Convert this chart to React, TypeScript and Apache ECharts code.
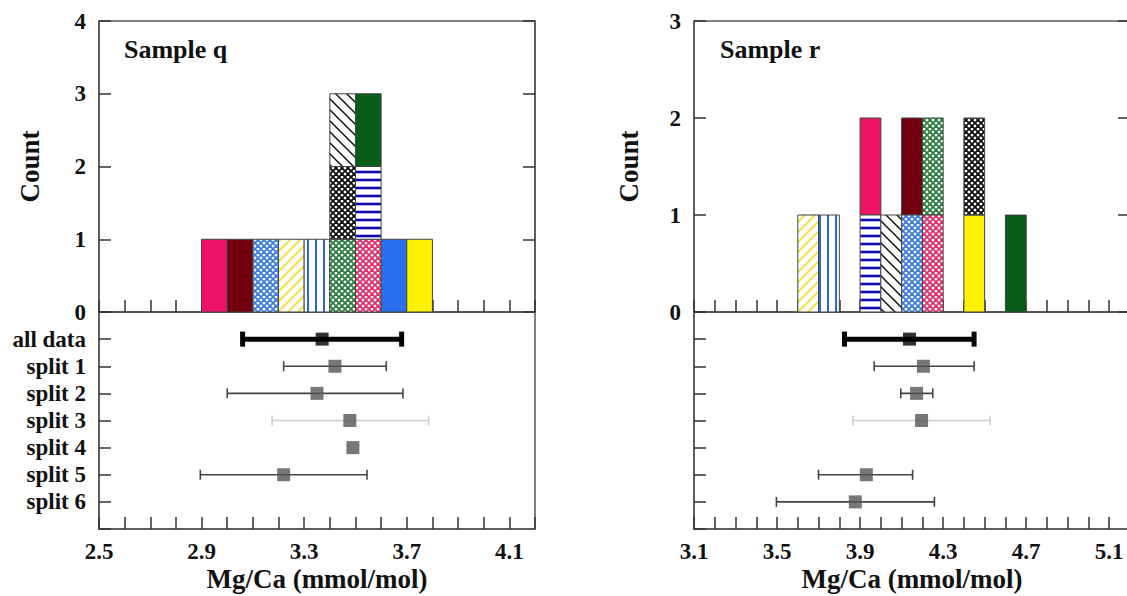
import React, { useEffect, useRef } from 'react';
import * as echarts from 'echarts';

// ---- specimens (each has its own fill) ----
const specimens = [
  'pinkSolid', 'darkRed', 'blueCross', 'yellowDiag', 'blueVert', 'greenCross', 'pinkCross',
  'blueSolid', 'yellowSolid', 'blackCross', 'navyHoriz', 'blackDiag', 'darkGreen',
];

// ---- histogram: bin lower edge (bin width 0.1) and stack level of each specimen ----
const binWidth = 0.1;
const qBin = [2.9, 3.0, 3.1, 3.2, 3.3, 3.4, 3.5, 3.6, 3.7, 3.4, 3.5, 3.4, 3.5];
const qLevel = [0, 0, 0, 0, 0, 0, 0, 0, 0, 1, 1, 2, 2];
const rBin = [3.9, 4.1, 4.1, 3.6, 3.7, 4.2, 4.2, null, 4.4, 4.4, 3.9, 4.0, 4.6];
const rLevel = [1, 1, 0, 0, 0, 1, 0, null, 0, 1, 0, 0, 0];

// ---- mean and range per row ----
const rowLabels = ['all data', 'split 1', 'split 2', 'split 3', 'split 4', 'split 5', 'split 6'];
const qMean = [3.37, 3.42, 3.35, 3.478, 3.49, 3.22, null];
const qLow = [3.06, 3.22, 3.0, 3.175, null, 2.895, null];
const qHigh = [3.68, 3.62, 3.685, 3.785, null, 3.545, null];
const rMean = [4.138, 4.205, 4.172, 4.196, null, 3.93, 3.877];
const rLow = [3.825, 3.968, 4.096, 3.866, null, 3.7, 3.497];
const rHigh = [4.449, 4.449, 4.25, 4.527, null, 4.153, 4.258];

// ---- axis ranges ----
const qRange = [2.5, 4.2];
const rRange = [3.1, 5.2];
const qCountMax = 4;
const rCountMax = 3;

const FONT = "'Liberation Serif', 'DejaVu Serif', serif";

function makePattern(kind: string, color: string) {
  const sizes: Record<string, number> = { cross: 6, diagUp: 10, diagDown: 11, vert: 8, horiz: 8 };
  const s = sizes[kind];
  const c = document.createElement('canvas');
  c.width = s;
  c.height = s;
  const g = c.getContext('2d')!;
  g.fillStyle = '#ffffff';
  g.fillRect(0, 0, s, s);
  g.strokeStyle = color;
  const line = (x1: number, y1: number, x2: number, y2: number) => {
    g.beginPath();
    g.moveTo(x1, y1);
    g.lineTo(x2, y2);
    g.stroke();
  };
  if (kind === 'cross') {
    g.lineWidth = 1.8;
    for (const o of [-s, 0, s]) {
      line(o - 2, -2, o + s + 2, s + 2);
      line(o - 2, s + 2, o + s + 2, -2);
    }
  } else if (kind === 'diagUp') {
    g.lineWidth = 2;
    for (const o of [-s, 0, s]) line(o - 2, s + 2, o + s + 2, -2);
  } else if (kind === 'diagDown') {
    g.lineWidth = 1.5;
    for (const o of [-s, 0, s]) line(o - 2, -2, o + s + 2, s + 2);
  } else if (kind === 'vert') {
    g.lineWidth = 2;
    line(s / 2, 0, s / 2, s);
  } else if (kind === 'horiz') {
    g.lineWidth = 2.6;
    line(0, s / 2, s, s / 2);
  }
  return { image: c, repeat: 'repeat', imageWidth: s, imageHeight: s };
}

function buildFills(): Record<string, any> {
  return {
    pinkSolid: '#ef1468',
    darkRed: '#73000e',
    blueCross: makePattern('cross', '#3d7fe0'),
    yellowDiag: makePattern('diagUp', '#f3df4a'),
    blueVert: makePattern('vert', '#2a66dc'),
    greenCross: makePattern('cross', '#2d7d3f'),
    pinkCross: makePattern('cross', '#e2306c'),
    blueSolid: '#2a6ff0',
    yellowSolid: '#fff200',
    blackCross: makePattern('cross', '#111111'),
    navyHoriz: makePattern('horiz', '#0b0ca6'),
    blackDiag: makePattern('diagDown', '#111111'),
    darkGreen: '#075c18',
  };
}

function histData(bins: (number | null)[], levels: (number | null)[]) {
  const out: number[][] = [];
  specimens.forEach((_, i) => {
    const b = bins[i];
    const l = levels[i];
    if (b == null || l == null) return;
    out.push([b, b + binWidth, l, l + 1, i]);
  });
  return out;
}

function rangeData(low: (number | null)[], high: (number | null)[]) {
  const out: number[][] = [];
  low.forEach((lo, i) => {
    const hi = high[i];
    if (lo == null || hi == null) return;
    out.push([i + 1, lo, hi]);
  });
  return out;
}

function meanData(mean: (number | null)[]) {
  const out: any[] = [];
  mean.forEach((m, i) => {
    if (m == null) return;
    out.push({ value: [m, i + 1], itemStyle: { color: i === 0 ? '#000000' : '#555555' } });
  });
  return out;
}

export default function App() {
  const ref = useRef<HTMLDivElement>(null);

  useEffect(() => {
    if (!ref.current) return;
    const chart = echarts.init(ref.current, undefined, { renderer: 'svg' });
    const fills = buildFills();

    const textBase = { fontFamily: FONT, fontWeight: 'bold' as const, color: '#111' };

    const gridL = 99, gridR = 694, gridW = 436;
    const topY = 21, histH = 291, lowH = 217;
    const grids = [
      { left: gridL, top: topY, width: gridW, height: histH },
      { left: gridL, top: topY + histH, width: gridW, height: lowH },
      { left: gridR, top: topY, width: gridW, height: histH },
      { left: gridR, top: topY + histH, width: gridW, height: lowH },
    ].map((g) => ({
      ...g,
      show: true,
      borderColor: '#555',
      borderWidth: 1.5,
      backgroundColor: 'transparent',
      containLabel: false,
      outerBoundsMode: 'none',
    }));

    const xLabel = (min: number) => (v: number) => {
      const k = Math.round((v - min) * 10);
      return k % 4 === 0 ? v.toFixed(1) : '';
    };

    const xAxis = (gridIndex: number, range: number[], labels: boolean) => ({
      type: 'value',
      gridIndex,
      position: 'bottom',
      min: range[0],
      max: range[1],
      interval: 0.1,
      axisLine: { show: true, onZero: false, lineStyle: { color: '#555', width: 1.5 } },
      axisTick: { show: true, inside: true, length: 12, lineStyle: { color: '#333', width: 1.5 } },
      splitLine: { show: false },
      axisLabel: labels
        ? { show: true, formatter: xLabel(range[0]), margin: 11, fontSize: 23, ...textBase }
        : { show: false },
      name: labels ? 'Mg/Ca (mmol/mol)' : '',
      nameLocation: 'middle',
      nameGap: 36,
      nameTextStyle: { fontSize: 27, ...textBase },
    });

    const countAxis = (gridIndex: number, max: number, position: string, gap: number) => ({
      type: 'value',
      gridIndex,
      position,
      min: 0,
      max,
      interval: 1,
      axisLine: { show: true, onZero: false, lineStyle: { color: '#555', width: 1.5 } },
      axisTick: { show: true, inside: true, length: 12, lineStyle: { color: '#333', width: 1.5 } },
      splitLine: { show: false },
      axisLabel: position === 'left' ? { show: true, margin: 13, fontSize: 23, ...textBase } : { show: false },
      name: position === 'left' ? 'Count' : '',
      nameLocation: 'middle',
      nameRotate: 90,
      nameGap: gap,
      nameTextStyle: { fontSize: 27, ...textBase },
    });

    const rowAxis = (gridIndex: number, labels: boolean) => ({
      type: 'value',
      gridIndex,
      position: 'left',
      min: 0,
      max: rowLabels.length + 1,
      interval: 1,
      inverse: true,
      axisLine: { show: true, onZero: false, lineStyle: { color: '#555', width: 1.5 } },
      axisTick: { show: true, inside: true, length: 12, lineStyle: { color: '#333', width: 1.5 } },
      splitLine: { show: false },
      axisLabel: labels
        ? { show: true, margin: 13, fontSize: 23, ...textBase, formatter: (v: number) => rowLabels[Math.round(v) - 1] ?? '' }
        : { show: false },
    });

    const histSeries = (data: number[][], xi: number, yi: number) => ({
      type: 'custom',
      xAxisIndex: xi,
      yAxisIndex: yi,
      data,
      encode: { x: [0, 1], y: [2, 3] },
      z: 3,
      renderItem: (params: any, api: any) => {
        const p0 = api.coord([api.value(0), api.value(3)]);
        const p1 = api.coord([api.value(1), api.value(2)]);
        return {
          type: 'rect',
          shape: { x: p0[0], y: p0[1], width: p1[0] - p0[0], height: p1[1] - p0[1] },
          style: { fill: fills[specimens[api.value(4)]], stroke: '#444', lineWidth: 1 },
        };
      },
    });

    const rangeSeries = (data: number[][], xi: number, yi: number) => ({
      type: 'custom',
      xAxisIndex: xi,
      yAxisIndex: yi,
      data,
      encode: { x: [1, 2], y: 0 },
      z: 3,
      renderItem: (params: any, api: any) => {
        const row = api.value(0);
        const a = api.coord([api.value(1), row]);
        const b = api.coord([api.value(2), row]);
        const isAll = row === 1;
        const color = row === 4 ? '#cdcdcd' : isAll ? '#000' : '#444';
        const lw = isAll ? 5 : 1.6;
        const capH = isAll ? 15 : 10;
        const capW = isAll ? 5 : 1.6;
        const cap = (x: number, y: number) => ({
          type: 'line',
          shape: { x1: x, y1: y - capH / 2, x2: x, y2: y + capH / 2 },
          style: { stroke: color, lineWidth: capW },
        });
        return {
          type: 'group',
          children: [
            { type: 'line', shape: { x1: a[0], y1: a[1], x2: b[0], y2: b[1] }, style: { stroke: color, lineWidth: lw } },
            cap(a[0], a[1]),
            cap(b[0], b[1]),
          ],
        };
      },
    });

    const meanSeries = (data: any[], xi: number, yi: number) => ({
      type: 'scatter',
      xAxisIndex: xi,
      yAxisIndex: yi,
      data,
      symbol: 'rect',
      symbolSize: 13,
      z: 4,
    });

    const option: any = {
      animation: false,
      backgroundColor: '#ffffff',
      grid: grids,
      xAxis: [
        xAxis(0, qRange, false),
        xAxis(1, qRange, true),
        xAxis(2, rRange, false),
        xAxis(3, rRange, true),
      ],
      yAxis: [
        countAxis(0, qCountMax, 'left', 56),
        countAxis(0, qCountMax, 'right', 10),
        rowAxis(1, true),
        countAxis(2, rCountMax, 'left', 52),
        countAxis(2, rCountMax, 'right', 10),
        rowAxis(3, false),
      ],
      graphic: [
        { type: 'text', left: 124, top: 36, style: { text: 'Sample q', font: `bold 26px ${FONT}`, fill: '#111' } },
        { type: 'text', left: 720, top: 36, style: { text: 'Sample r', font: `bold 26px ${FONT}`, fill: '#111' } },
      ],
      series: [
        histSeries(histData(qBin, qLevel), 0, 0),
        histSeries(histData(rBin, rLevel), 2, 3),
        rangeSeries(rangeData(qLow, qHigh), 1, 2),
        meanSeries(meanData(qMean), 1, 2),
        rangeSeries(rangeData(rLow, rHigh), 3, 5),
        meanSeries(meanData(rMean), 3, 5),
      ],
    };

    chart.setOption(option);
    return () => chart.dispose();
  }, []);

  return (
    <div
      ref={ref}
      style={{ position: 'fixed', left: 0, top: 0, width: 1127, height: 596, background: '#fff' }}
    />
  );
}
